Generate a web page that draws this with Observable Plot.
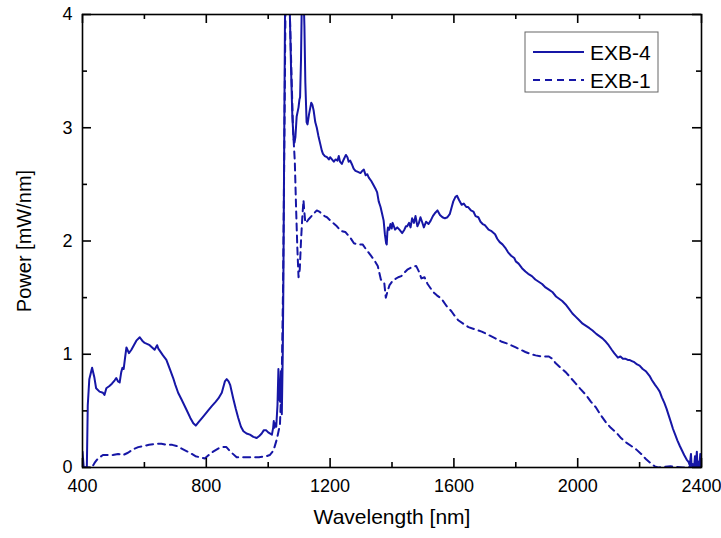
<!DOCTYPE html>
<html>
<head>
<meta charset="utf-8">
<script src="https://cdn.jsdelivr.net/npm/d3@7"></script>
<script src="https://cdn.jsdelivr.net/npm/@observablehq/plot@0.6"></script>
<style>
  html, body { margin: 0; padding: 0; background: #fff; }
  #chart svg { font-family: "Liberation Sans", Arial, sans-serif; }
</style>
</head>
<body>
<div id="chart"></div>
<script>
// EXB-4 (solid): wavelength [nm], power [mW/nm]
const wl4 = [400,404,414,417,422,431,438,444,455,466,471,477,487,495,504,509,515,520,525,529,533,538,542,550,558,566,574,585,593,601,610,617,625,633,637,641,645,650,660,671,682,693,700,709,720,736,748,758,766,775,790,805,817,830,839,850,860,866,872,877,887,895,903,912,920,930,941,952,963,972,979,986,993,1000,1012,1016,1018,1020,1023,1026,1030,1033,1036,1039,1041,1044,1047,1049,1052,1055,1060,1066,1070,1074,1078,1082,1085,1088,1092,1098,1101,1103,1106,1109,1113,1117,1120,1124,1127,1132,1139,1143,1147,1152,1157,1162,1168,1173,1177,1183,1190,1196,1200,1206,1212,1218,1224,1228,1232,1238,1244,1251,1256,1260,1265,1270,1276,1282,1290,1298,1304,1309,1315,1320,1325,1333,1341,1347,1352,1357,1363,1368,1373,1377,1381,1383,1385,1387,1391,1395,1399,1402,1406,1410,1417,1424,1433,1440,1445,1449,1455,1460,1465,1471,1476,1482,1487,1492,1497,1503,1510,1518,1525,1532,1540,1547,1555,1563,1571,1579,1587,1593,1598,1605,1610,1617,1625,1632,1640,1646,1655,1663,1670,1679,1686,1693,1700,1706,1712,1720,1733,1740,1748,1757,1766,1775,1785,1795,1800,1809,1820,1831,1840,1852,1863,1874,1885,1896,1907,1918,1930,1940,1950,1961,1972,1983,1994,2005,2016,2027,2038,2048,2060,2070,2080,2091,2100,2110,2118,2124,2130,2138,2146,2155,2162,2167,2175,2183,2192,2200,2210,2220,2232,2240,2250,2258,2265,2272,2280,2287,2294,2300,2308,2315,2322,2330,2337,2344,2352,2358,2362,2366,2368,2372,2376,2379,2381,2385,2387,2390,2393,2396,2398,2400];
const pw4 = [0.14,0.0,0.0,0.55,0.78,0.88,0.80,0.70,0.67,0.66,0.64,0.70,0.72,0.74,0.77,0.79,0.76,0.75,0.84,0.88,0.87,0.98,1.06,1.01,1.04,1.08,1.12,1.15,1.12,1.10,1.09,1.08,1.06,1.04,1.06,1.08,1.05,1.03,0.99,0.95,0.87,0.79,0.73,0.66,0.60,0.51,0.44,0.39,0.37,0.40,0.45,0.50,0.54,0.58,0.61,0.66,0.76,0.78,0.76,0.73,0.61,0.52,0.44,0.36,0.32,0.30,0.29,0.27,0.26,0.28,0.30,0.33,0.33,0.31,0.29,0.35,0.41,0.35,0.39,0.36,0.55,0.87,0.60,0.58,0.85,0.47,1.0,1.6,3.0,4.3,4.6,4.3,4.0,3.5,3.1,2.9,2.87,2.92,3.1,3.18,3.25,3.27,3.6,4.2,4.3,3.9,3.4,3.05,3.03,3.12,3.22,3.20,3.15,3.05,3.00,2.93,2.86,2.80,2.77,2.75,2.74,2.72,2.74,2.72,2.70,2.72,2.71,2.75,2.70,2.68,2.72,2.76,2.74,2.70,2.71,2.68,2.64,2.62,2.61,2.60,2.62,2.63,2.58,2.59,2.56,2.53,2.49,2.46,2.43,2.35,2.30,2.24,2.18,2.06,1.98,1.97,2.08,2.12,2.10,2.15,2.11,2.16,2.13,2.10,2.12,2.10,2.07,2.10,2.13,2.13,2.16,2.12,2.20,2.16,2.22,2.13,2.16,2.21,2.17,2.12,2.17,2.15,2.18,2.22,2.25,2.27,2.23,2.21,2.20,2.21,2.24,2.30,2.35,2.39,2.40,2.36,2.32,2.33,2.30,2.30,2.27,2.26,2.22,2.21,2.17,2.15,2.14,2.12,2.10,2.09,2.06,2.02,1.99,1.97,1.94,1.90,1.87,1.85,1.82,1.80,1.76,1.73,1.71,1.69,1.66,1.64,1.62,1.59,1.57,1.55,1.51,1.49,1.47,1.44,1.40,1.36,1.33,1.30,1.27,1.25,1.23,1.21,1.18,1.16,1.14,1.11,1.08,1.04,1.01,0.99,0.97,0.98,0.96,0.96,0.95,0.95,0.94,0.93,0.91,0.90,0.87,0.85,0.81,0.77,0.73,0.70,0.67,0.62,0.57,0.52,0.46,0.41,0.34,0.29,0.24,0.19,0.15,0.11,0.07,0.05,0.02,0.12,0.01,0.03,0.00,0.10,0.01,0.14,0.00,0.05,0.00,0.12,0.01,0.02];

// EXB-1 (dashed)
const wl1 = [400,430,439,450,466,480,498,515,531,547,563,580,596,615,639,655,671,690,704,725,747,765,779,795,808,822,840,855,865,878,898,920,941,970,995,1005,1017,1028,1038,1044,1048,1052,1056,1062,1068,1074,1080,1086,1090,1094,1098,1102,1106,1110,1114,1117,1120,1125,1130,1140,1150,1157,1165,1173,1182,1190,1205,1222,1234,1249,1265,1277,1290,1305,1318,1332,1343,1354,1364,1370,1375,1380,1385,1392,1400,1408,1420,1430,1440,1451,1465,1478,1487,1495,1505,1515,1533,1545,1560,1575,1592,1605,1614,1630,1647,1668,1690,1712,1734,1755,1777,1800,1831,1850,1864,1885,1907,1918,1929,1945,1962,1978,1994,2010,2027,2043,2059,2075,2091,2107,2124,2140,2157,2173,2189,2205,2222,2235,2249,2260,2300,2340,2380,2400];
const pw1 = [0,0,0.04,0.08,0.11,0.11,0.11,0.12,0.11,0.13,0.16,0.18,0.19,0.20,0.21,0.21,0.20,0.20,0.19,0.16,0.13,0.10,0.09,0.08,0.11,0.14,0.17,0.18,0.18,0.14,0.09,0.09,0.09,0.09,0.10,0.11,0.15,0.25,0.38,0.82,1.6,2.8,4.1,4.5,4.2,3.6,3.0,2.7,2.3,1.95,1.68,1.75,2.0,2.2,2.36,2.25,2.16,2.17,2.19,2.22,2.25,2.27,2.26,2.24,2.22,2.21,2.17,2.13,2.09,2.08,2.03,1.98,1.97,1.97,1.92,1.87,1.83,1.78,1.66,1.64,1.63,1.50,1.55,1.61,1.64,1.66,1.68,1.69,1.72,1.75,1.77,1.78,1.73,1.67,1.68,1.62,1.55,1.52,1.49,1.43,1.38,1.33,1.30,1.27,1.24,1.22,1.20,1.17,1.14,1.11,1.09,1.06,1.02,1.00,0.99,0.98,0.98,0.96,0.92,0.88,0.84,0.79,0.74,0.69,0.64,0.58,0.53,0.46,0.40,0.35,0.31,0.26,0.22,0.19,0.16,0.12,0.07,0.04,0.01,0.00,0.01,0.00,0.01,0.00];

const seriesNames = ["EXB-4", "EXB-1"];
const xMajor = [400, 800, 1200, 1600, 2000, 2400];
const xMinor = [600, 1000, 1400, 1800, 2200];
const yMajor = [0, 1, 2, 3, 4];
const yMinor = [0.5, 1.5, 2.5, 3.5];

const d4 = wl4.map((x, i) => ({x, y: pw4[i]}));
const d1 = wl1.map((x, i) => ({x, y: pw1[i]}));

const W = 721, H = 538;
const mL = 82, mR = 20, mT = 14, mB = 71;
const pw = W - mL - mR, ph = H - mT - mB;
const color = "#1616a6";
const majorLen = 9, minorLen = 5;
const fs = 18;
const dash = "7,5";

const chart = Plot.plot({
  width: W, height: H,
  marginLeft: mL, marginRight: mR, marginTop: mT, marginBottom: mB,
  x: {domain: [400, 2400]},
  y: {domain: [0, 4]},
  style: {fontFamily: "'Liberation Sans', Arial, sans-serif", color: "#000", background: "#fff", overflow: "visible"},
  marks: [
    Plot.line(d1, {x: "x", y: "y", stroke: color, strokeWidth: 2, strokeDasharray: dash, clip: true}),
    Plot.line(d4, {x: "x", y: "y", stroke: color, strokeWidth: 2, clip: true}),
    Plot.frame({stroke: "#000", strokeWidth: 1.6}),
    // inward ticks, bottom
    Plot.tickX(xMajor, {x: d => d, insetTop: ph - majorLen, stroke: "#000", strokeWidth: 1.6}),
    Plot.tickX(xMinor, {x: d => d, insetTop: ph - minorLen, stroke: "#000", strokeWidth: 1.6}),
    // top
    Plot.tickX(xMajor, {x: d => d, insetBottom: ph - majorLen, stroke: "#000", strokeWidth: 1.6}),
    Plot.tickX(xMinor, {x: d => d, insetBottom: ph - minorLen, stroke: "#000", strokeWidth: 1.6}),
    // left
    Plot.tickY(yMajor, {y: d => d, insetRight: pw - majorLen, stroke: "#000", strokeWidth: 1.6}),
    Plot.tickY(yMinor, {y: d => d, insetRight: pw - minorLen, stroke: "#000", strokeWidth: 1.6}),
    // right
    Plot.tickY(yMajor, {y: d => d, insetLeft: pw - majorLen, stroke: "#000", strokeWidth: 1.6}),
    Plot.tickY(yMinor, {y: d => d, insetLeft: pw - minorLen, stroke: "#000", strokeWidth: 1.6}),
    Plot.axisX({ticks: xMajor, tickSize: 0, tickPadding: 12, fontSize: fs, label: null, tickFormat: d => String(d)}),
    Plot.axisY({ticks: yMajor, tickSize: 0, tickPadding: 10, fontSize: fs, label: null, tickFormat: d => String(d)}),
    Plot.text(["Wavelength [nm]"], {frameAnchor: "bottom", dy: 56, fontSize: 21, fill: "#000", textAnchor: "middle"}),
    Plot.text(["Power [mW/nm]"], {frameAnchor: "left", dx: -58, rotate: -90, fontSize: 20, fill: "#000", textAnchor: "middle"})
  ]
});

document.getElementById("chart").appendChild(chart);

// Legend box (inside plot, top-right)
const svg = d3.select(chart);
const lg = svg.append("g")
  .attr("font-family", "'Liberation Sans', Arial, sans-serif")
  .attr("font-size", 21)
  .attr("text-anchor", "start");
const bx = 525, by = 32, bw = 133, bh = 60;
lg.append("rect").attr("x", bx).attr("y", by).attr("width", bw).attr("height", bh)
  .attr("fill", "#fff").attr("stroke", "#666").attr("stroke-width", 1);
const styles = [null, dash];
seriesNames.forEach((name, i) => {
  const cy = by + 20 + i * 28;
  lg.append("line").attr("x1", bx + 8).attr("x2", bx + 59).attr("y1", cy).attr("y2", cy)
    .attr("stroke", color).attr("stroke-width", 2)
    .attr("stroke-dasharray", styles[i]);
  lg.append("text").attr("x", bx + 65).attr("y", cy).attr("dy", "0.36em")
    .attr("text-anchor", "start")
    .attr("fill", "#000").text(name);
});
</script>
</body>
</html>
